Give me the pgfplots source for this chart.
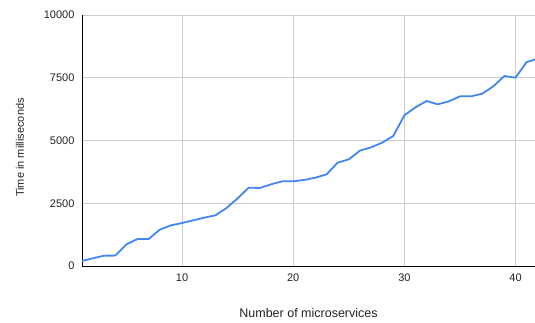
\documentclass[border=0pt]{standalone}
\usepackage{pgfplots}
\pgfplotsset{compat=1.18}
\usepackage{fontspec}
\setmainfont{Liberation Sans}
\definecolor{gblue}{HTML}{4285F4}
\definecolor{gridgray}{HTML}{CCCCCC}
\definecolor{txtgray}{HTML}{222222}
\begin{document}
\begin{tikzpicture}[x=1pt,y=1pt]
\useasboundingbox (0,0) rectangle (535,322);
\begin{axis}[
  at={(82pt,56pt)}, anchor=south west,
  scale only axis, width=453pt, height=251pt,
  xmin=1, xmax=41.75, ymin=0, ymax=10000,
  xtick={10,20,30,40}, ytick={0,2500,5000,7500,10000},
  axis x line=bottom, axis y line=left,
  axis line style={-, black, line width=0.9pt},
  major tick length=0pt,
  grid=major, major grid style={gridgray, line width=0.8pt},
  /pgf/number format/assume math mode=true,
  /pgf/number format/1000 sep={},
  scaled y ticks=false,
  tick label style={font=\fontsize{11}{13}\selectfont, text=txtgray},
  xticklabel style={yshift=-4pt},
  yticklabel style={xshift=-4pt},
  xlabel={Number of microservices},
  ylabel={Time in milliseconds},
  xlabel style={font=\fontsize{12.5}{14}\selectfont, text=txtgray, at={(axis description cs:0.5,0)}, anchor=center, yshift=-47pt},
  ylabel style={font=\fontsize{11}{13}\selectfont, text=txtgray, at={(axis description cs:0,0.5)}, anchor=center, yshift=62pt, xshift=-7pt},
  clip=true,
]
\addplot[gblue, line width=1.8pt, line join=round] coordinates {
(1,200) (2,310) (3,412) (4,415) (5,863) (6,1076) (7,1076) (8,1448) (9,1620) (10,1713)
(11,1820) (12,1926) (13,2019) (14,2310) (15,2696) (16,3121) (17,3108) (18,3254) (19,3373) (20,3373)
(21,3430) (22,3519) (23,3652) (24,4117) (25,4250) (26,4595) (27,4728) (28,4914) (29,5179) (30,6003)
(31,6321) (32,6574) (33,6441) (34,6560) (35,6760) (36,6760) (37,6866) (38,7158) (39,7570) (40,7503)
(41,8127) (42,8260)
};
\end{axis}
\end{tikzpicture}
\end{document}
